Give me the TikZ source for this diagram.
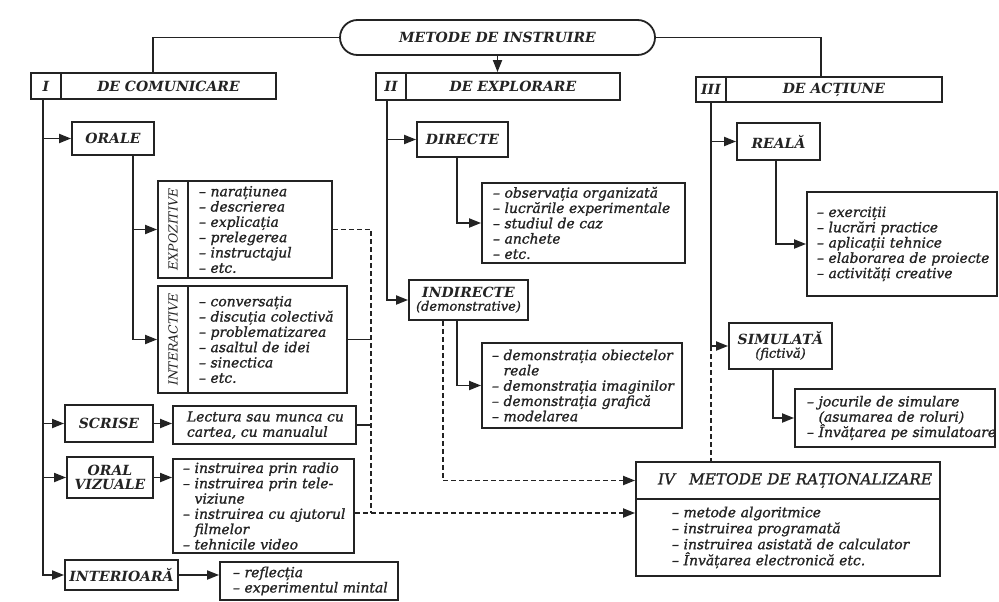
\documentclass[tikz,border=0pt]{standalone}
\usepackage{fontspec}
\setmainfont{DejaVu Serif}
\newfontfamily\medfam{DejaVu Serif}[FakeBold=1.2]
\usetikzlibrary{arrows.meta,calc}
\definecolor{ink}{RGB}{35,35,35}
\newcommand\hdrfont{\fontsize{14}{16}\selectfont\bfseries\itshape}
\newcommand\subfont{\fontsize{13}{15}\selectfont\medfam\mdseries\itshape}
\newcommand\itmfont{\fontsize{13.9}{15.3}\selectfont\medfam\itshape}
\newcommand\ivfont{\fontsize{13.9}{16}\selectfont\medfam\itshape}
\newcommand\labfont{\fontsize{12.5}{14}\selectfont\itshape}
\newcommand\ivtfont{\fontsize{15.3}{17}\selectfont\medfam\itshape}
\newcommand\ind{\phantom{– }}
\newcommand\itm[1]{\mbox{#1}}
\tikzset{
  inkline/.style={draw=ink, line width=1.8pt},
  box/.style={draw=ink, line width=1.8pt, rectangle, inner sep=0pt, font=\hdrfont, text=ink, align=center},
  items/.style={box, font=\itmfont, align=left},
  arr/.style={inkline, -{Triangle[length=12pt,width=9pt]}},
  dashline/.style={inkline, dash pattern=on 5pt off 3pt},
  darr/.style={dashline, -{Triangle[length=12pt,width=9pt]}},
}
\begin{document}
\begin{tikzpicture}[x=1pt,y=-1pt]
\useasboundingbox[fill=white] (0,0) rectangle (999,602);

% top
\node[box, rounded corners=17.5pt, minimum width=315pt, minimum height=35pt] (top) at (497.5,37.5) {METODE DE INSTRUIRE};

% category headers
\node[box, minimum width=30pt, minimum height=26pt] (c1a) at (46,86) {I};
\node[box, minimum width=215pt, minimum height=26pt] (c1b) at (168.5,86) {DE COMUNICARE};
\node[box, minimum width=30pt, minimum height=27pt] (c2a) at (391,86.5) {II};
\node[box, minimum width=214pt, minimum height=27pt] (c2b) at (513,86.5) {DE EXPLORARE};
\node[box, minimum width=30pt, minimum height=25pt] (c3a) at (711,89.5) {III};
\node[box, minimum width=216pt, minimum height=25pt] (c3b) at (834,89.5) {DE ACȚIUNE};

% I column
\node[box, minimum width=82pt, minimum height=33pt] (orale) at (113,138.5) {ORALE};
\node[box, rotate=90, font=\labfont, minimum width=97pt, minimum height=30pt] (expl) at (173,229.5) {EXPOZITIVE};
\node[items, minimum height=97pt, inner xsep=11pt, text width=122pt] (expi) at (260,229.5)
  {\itm{– narațiunea}\\\itm{– descrierea}\\\itm{– explicația}\\\itm{– prelegerea}\\\itm{– instructajul}\\\itm{– etc.}};
\node[box, rotate=90, font=\labfont, minimum width=107pt, minimum height=30pt] (intl) at (173,339.5) {INTERACTIVE};
\node[items, minimum height=107pt, inner xsep=11pt, text width=137pt] (inti) at (267.5,339.5)
  {\itm{– conversația}\\\itm{– discuția colectivă}\\\itm{– problematizarea}\\\itm{– asaltul de idei}\\\itm{– sinectica}\\\itm{– etc.}};
\node[box, minimum width=88pt, minimum height=37pt] (scr) at (109,423.5) {SCRISE};
\node[items, minimum height=38pt, inner xsep=14pt, text width=155pt] (scri) at (264.5,425)
  {\itm{Lectura sau munca cu}\\\itm{cartea, cu manualul}};
\node[box, minimum width=86pt, minimum height=41pt] (ov) at (110,477.5) {ORAL\\[-2pt]VIZUALE};
\node[items, minimum height=94pt, inner xsep=10pt, text width=161pt] (ovi) at (263.5,506)
  {\itm{– instruirea prin radio}\\\itm{– instruirea prin tele-}\\\itm{\ind viziune}\\\itm{– instruirea cu ajutorul}\\\itm{\ind filmelor}\\\itm{– tehnicile video}};
\node[box, minimum width=113pt, minimum height=30pt] (ie) at (121.5,575) {INTERIOARĂ};
\node[items, minimum height=38pt, inner xsep=13pt, text width=152pt] (iei) at (309,581)
  {\itm{– reflecția}\\\itm{– experimentul mintal}};

% II column
\node[box, minimum width=91pt, minimum height=35pt] (dir) at (462.5,139.5) {DIRECTE};
\node[items, minimum height=80pt, inner xsep=11pt, text width=181pt] (diri) at (583.5,223)
  {\itm{– observația organizată}\\\itm{– lucrările experimentale}\\\itm{– studiul de caz}\\\itm{– anchete}\\\itm{– etc.}};
\node[box, minimum width=119pt, minimum height=40pt] (indr) at (468.5,300) {INDIRECTE\\[-3pt]{\subfont(demonstrative)}};
\node[items, minimum height=85pt, inner xsep=10pt, text width=180pt] (indi) at (582,385.5)
  {\itm{– demonstrația obiectelor}\\\itm{\ind reale}\\\itm{– demonstrația imaginilor}\\\itm{– demonstrația grafică}\\\itm{– modelarea}};

% III column
\node[box, minimum width=83pt, minimum height=37pt] (rea) at (778.5,141.5) {REALĂ};
\node[items, minimum height=104pt, inner xsep=10pt, text width=170pt] (reai) at (902,244)
  {\itm{– exerciții}\\\itm{– lucrări practice}\\\itm{– aplicații tehnice}\\\itm{– elaborarea de proiecte}\\\itm{– activități creative}};
\node[box, minimum width=103pt, minimum height=46pt] (sim) at (780.5,346) {SIMULATĂ\\[-3pt]{\subfont(fictivă)}};
\node[items, minimum height=58pt, inner xsep=12pt, text width=176pt] (simi) at (895,418)
  {\itm{– jocurile de simulare}\\\itm{\ind (asumarea de roluri)}\\\itm{– Învățarea pe simulatoare}};

% IV
\node[box, font=\ivtfont, align=left, minimum height=37pt, inner xsep=22pt, text width=260pt] (ivh) at (788,480.5)
  {\itm{IV\hspace{14pt}METODE DE RAȚIONALIZARE}};
\node[items, font=\ivfont, minimum height=77pt, inner xsep=36pt, text width=232pt] (ivb) at (788,537.5)
  {\itm{– metode algoritmice}\\\itm{– instruirea programată}\\\itm{– instruirea asistată de calculator}\\\itm{– Învățarea electronică etc.}};

% top connectors
\draw[inkline] (top.west) -| ([xshift=93pt]c1b.north west);
\draw[inkline] (top.east) -| ([xshift=96pt]c3b.north west);
\draw[arr] (top.south) -- (top.south |- c2b.north);

% I trunk
\coordinate (tI) at ([xshift=-3pt]c1a.south);
\draw[arr] (tI) |- (ie.west);
\draw[arr] (tI |- orale.west) -- (orale.west);
\draw[arr] (tI |- scr.west) -- (scr.west);
\draw[arr] (tI |- ov.west) -- (ov.west);
\coordinate (tO) at ([xshift=20pt]orale.south);
\draw[arr] (tO) |- (intl.north);
\draw[arr] (tO |- expl.north) -- (expl.north);
\draw[arr] (scr.east) -- (scr.east -| scri.west);
\draw[arr] (ov.east) -- (ov.east -| ovi.west);
\draw[arr] (ie.east) -- (ie.east -| iei.west);

% dashed collector of I
\coordinate (dv) at (371,513);
\draw[dashline] (expi.east) -| (dv);
\draw[inkline] (inti.east) -- (inti.east -| dv);
\draw[inkline] (scri.east) -- (scri.east -| dv);
\draw[darr] ([yshift=-7pt]ovi.east) -- (ivb.west |- dv);

% II trunk
\coordinate (tII) at ([xshift=-4pt]c2a.south);
\draw[arr] (tII) |- (indr.west);
\draw[arr] (tII |- dir.west) -- (dir.west);
\coordinate (tD) at ([xshift=-5.5pt]dir.south);
\draw[arr] (tD) |- (diri.west);
\coordinate (tIn) at ([xshift=-11.5pt]indr.south);
\draw[arr] (tIn) |- (indi.west);
\coordinate (tIn2) at ([xshift=-25.5pt]indr.south);
\draw[darr] (tIn2) |- (ivh.west);

% III trunk
\coordinate (tIII) at (c3a.south);
\draw[arr] (tIII) |- (sim.west);
\draw[arr] (tIII |- rea.west) -- (rea.west);
\draw[dashline] (tIII |- sim.west) -- (tIII |- ivh.north);
\coordinate (tR) at ([xshift=-2.5pt]rea.south);
\draw[arr] (tR) |- (reai.west);
\coordinate (tS) at ([xshift=-7.5pt]sim.south);
\draw[arr] (tS) |- (simi.west);
\end{tikzpicture}
\end{document}
